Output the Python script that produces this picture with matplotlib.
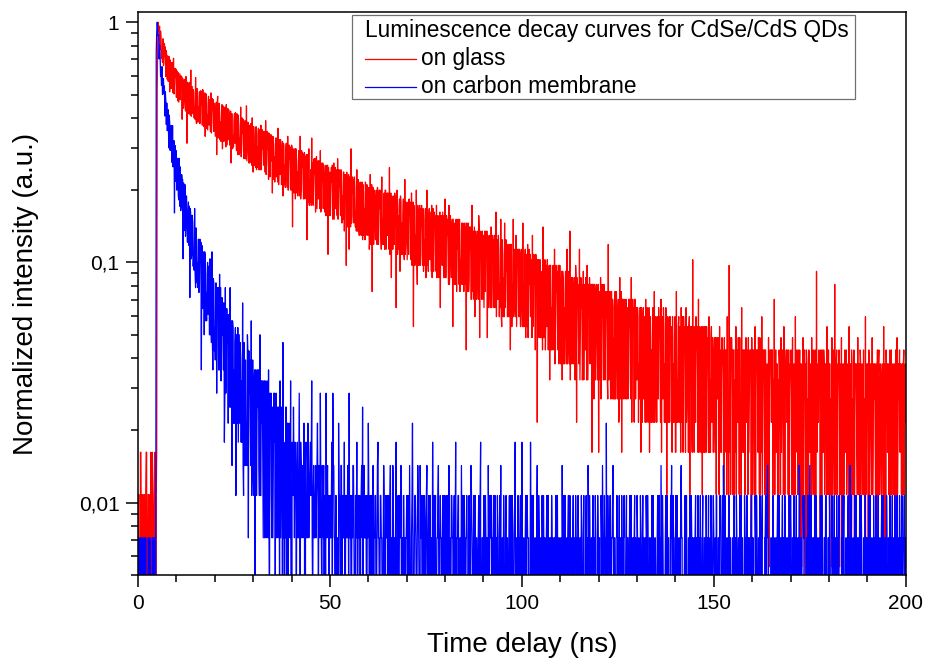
import numpy as np
from matplotlib import pyplot as plt
from matplotlib.patches import Rectangle
from matplotlib.ticker import MultipleLocator, LogLocator, FixedLocator, FixedFormatter, NullFormatter

plt.rcParams['font.family'] = ['Liberation Sans', 'DejaVu Sans']

# photon counts: channels at 0, 0.25, 0.5 ... ns
# and the "half" lists hold the channels in between (0.125, 0.375 ...)
step = 0.25
red_peak = 185
blue_peak = 280

red_0_50 = [1, 2, 0, 3, 1, 2, 1, 0, 2, 3, 1, 2, 0, 1, 2, 3, 1, 2, 1, 2,
            96, 185, 169, 142,
            160, 140, 158, 125, 133, 110, 132, 134, 116, 95, 124, 114, 103, 131, 101, 109,
            90, 109, 114, 98, 88, 102, 73, 105, 94, 87, 110, 58, 95, 77, 91, 117,
            86, 77, 95, 82, 109, 70, 91, 82, 95, 75, 84, 69, 89, 84, 62, 93,
            76, 85, 69, 78, 94, 71, 80, 65, 85, 73, 52, 91, 62, 76, 71, 80,
            55, 76, 72, 64, 84, 66, 60, 76, 70, 48, 77, 62, 72, 58, 66, 77,
            52, 68, 61, 82, 55, 64, 57, 70, 50, 83, 60, 54, 69, 50, 62, 74,
            44, 62, 54, 68, 56, 63, 45, 58, 69, 51, 55, 47, 59, 72, 48, 55,
            41, 60, 56, 49, 36, 61, 51, 57, 42, 54, 67, 46, 43, 55, 50, 35,
            57, 47, 55, 43, 62, 38, 50, 44, 57, 26, 47, 50, 34, 53, 44, 48,
            39, 62, 37, 46, 40, 52, 34, 49, 23, 41, 55, 41, 45, 61, 48, 39,
            43, 30, 51, 40, 34, 44, 54, 35, 40, 31, 43, 38, 47, 41, 20, 38]
red_half_0_50 = [2, 0, 3, 1, 2, 0, 2, 1, 3, 0, 2, 1, 2, 3, 0, 2, 1, 3, 0, 3,
                 150, 176, 178, 170,
                 131, 126, 122, 151, 146, 141, 107, 105, 133, 129, 98, 126, 94, 93, 119, 118,
                 116, 87, 86, 113, 111, 110, 108, 81, 107, 79, 106, 104, 103, 104, 76, 75,
                 100, 97, 74, 73, 72, 98, 71, 74, 70, 96, 92, 97, 68, 94, 93, 67,
                 66, 91, 88, 65, 64, 89, 88, 85, 62, 86, 84, 61, 85, 60, 59, 84,
                 83, 59, 82, 56, 57, 81, 80, 57, 79, 77, 55, 56, 77, 78, 54, 76,
                 76, 52, 53, 51, 74, 73, 50, 72, 50, 49, 71, 48, 48, 70, 47, 46,
                 68, 47, 46, 45, 46, 67, 66, 45, 45, 66, 65, 65, 44, 43, 65, 64,
                 64, 42, 63, 61, 62, 41, 40, 61, 61, 40, 39, 60, 60, 39, 59, 58,
                 39, 38, 58, 38, 37, 57, 56, 37, 56, 55, 36, 55, 55, 36, 35, 54,
                 35, 34, 54, 53, 34, 53, 51, 52, 52, 33, 32, 33, 32, 33, 32, 50,
                 50, 49, 31, 49, 49, 31, 30, 48, 48, 47, 30, 29, 29, 47, 46, 29]

red_50_100 = [44, 36, 40, 28, 48, 37, 31, 42, 50, 32, 38, 29, 40, 35, 44, 25, 41, 18, 32, 42,
              21, 37, 55, 29, 36, 27, 38, 30, 45, 25, 34, 36, 28, 39, 23, 36, 31, 40, 26, 33,
              34, 21, 43, 33, 14, 38, 26, 31, 34, 22, 36, 27, 31, 24, 42, 28, 32, 21, 37, 30,
              24, 33, 46, 35, 16, 30, 33, 22, 26, 12, 37, 29, 31, 17, 33, 27, 29, 20, 41, 23,
              25, 32, 20, 29, 23, 36, 26, 10, 29, 24, 37, 15, 27, 29, 18, 26, 20, 31, 23, 28,
              16, 37, 22, 29, 19, 23, 32, 25, 17, 26, 20, 32, 20, 23, 28, 12, 25, 18, 22, 29,
              34, 16, 24, 20, 32, 19, 23, 26, 10, 20, 27, 25, 14, 21, 17, 28, 19, 25, 15, 22,
              22, 15, 8, 19, 27, 16, 21, 13, 32, 25, 19, 11, 23, 20, 16, 29, 9, 21, 13, 22,
              24, 18, 14, 21, 9, 23, 18, 16, 26, 15, 20, 12, 19, 30, 17, 13, 21, 15, 28, 10,
              20, 16, 27, 13, 17, 11, 20, 18, 8, 22, 15, 28, 12, 16, 24, 14, 18, 11, 20, 15]
red_half_50_100 = [29, 46, 47, 30, 28, 46, 45, 29, 28, 45, 44, 45, 27, 28, 44, 43, 43, 44, 26, 43,
                   42, 26, 27, 42, 41, 42, 26, 25, 25, 41, 24, 40, 24, 40, 39, 24, 23, 24, 39, 24,
                   38, 23, 22, 39, 38, 22, 37, 23, 37, 38, 22, 37, 37, 21, 22, 22, 36, 37, 21, 36,
                   36, 21, 20, 36, 35, 21, 35, 36, 35, 34, 20, 21, 34, 35, 20, 20, 34, 19, 20, 33,
                   19, 33, 34, 33, 19, 18, 33, 32, 18, 19, 19, 32, 18, 32, 31, 32, 18, 17, 18, 31,
                   17, 18, 17, 31, 30, 17, 16, 31, 30, 29, 17, 16, 29, 16, 30, 29, 29, 30, 16, 16,
                   16, 29, 28, 15, 15, 29, 16, 28, 28, 15, 15, 28, 27, 28, 15, 14, 15, 27, 27, 14,
                   27, 26, 27, 14, 14, 26, 26, 13, 14, 13, 26, 25, 13, 25, 13, 26, 25, 24, 25, 13,
                   12, 25, 24, 25, 24, 12, 24, 12, 12, 24, 23, 24, 12, 11, 23, 24, 11, 12, 11, 23,
                   11, 11, 12, 23, 22, 22, 11, 22, 22, 10, 11, 11, 21, 11, 10, 21, 21, 21, 10, 21]

red_100_150 = [13, 27, 15, 19, 9, 16, 22, 12, 15, 11, 17, 24, 11, 15, 8, 18, 4, 16, 9, 19,
               14, 17, 26, 15, 19, 11, 10, 16, 13, 6, 18, 12, 16, 10, 21, 8, 14, 11, 18, 8,
               12, 14, 6, 16, 12, 14, 9, 21, 8, 13, 25, 16, 7, 14, 12, 11, 18, 4, 13, 9,
               21, 10, 12, 6, 17, 11, 8, 13, 18, 8, 12, 7, 13, 3, 15, 5, 14, 11, 9, 14,
               3, 12, 16, 7, 11, 6, 13, 8, 11, 6, 22, 12, 7, 14, 5, 12, 9, 14, 7, 10,
               11, 4, 16, 11, 3, 13, 7, 9, 11, 5, 12, 7, 10, 6, 16, 8, 10, 4, 13, 9,
               6, 11, 7, 12, 3, 9, 11, 5, 7, 13, 6, 9, 10, 3, 11, 8, 9, 4, 14, 6,
               7, 11, 5, 9, 6, 13, 8, 5, 10, 7, 12, 2, 8, 10, 4, 8, 5, 11, 7, 9,
               3, 14, 6, 10, 4, 7, 12, 8, 3, 8, 5, 12, 5, 7, 10, 2, 8, 4, 19, 10,
               9, 4, 8, 6, 13, 5, 7, 9, 2, 6, 10, 9, 3, 7, 4, 11, 6, 9, 4, 7]
red_half_100_150 = [10, 10, 10, 21, 20, 10, 9, 21, 20, 19, 9, 10, 20, 19, 20, 19, 19, 19, 18, 9,
                    9, 8, 9, 9, 8, 18, 19, 8, 18, 18, 8, 8, 18, 8, 7, 18, 17, 8, 7, 18,
                    7, 17, 17, 7, 7, 17, 7, 7, 17, 7, 6, 16, 16, 7, 16, 6, 16, 16, 15, 7,
                    6, 16, 15, 7, 6, 15, 16, 6, 6, 15, 16, 15, 15, 15, 14, 15, 6, 15, 6, 15,
                    14, 6, 5, 15, 14, 15, 6, 14, 14, 5, 6, 14, 5, 14, 13, 5, 5, 5, 14, 5,
                    13, 5, 5, 14, 13, 5, 13, 5, 13, 12, 5, 13, 13, 5, 4, 13, 12, 13, 5, 12,
                    12, 4, 5, 12, 12, 4, 12, 11, 4, 4, 12, 4, 12, 11, 4, 4, 12, 4, 4, 11,
                    4, 11, 12, 11, 4, 3, 11, 12, 4, 4, 11, 11, 4, 11, 11, 10, 3, 4, 4, 11,
                    3, 4, 4, 11, 10, 3, 4, 11, 11, 10, 3, 4, 10, 3, 11, 10, 10, 3, 4, 3,
                    10, 11, 10, 3, 3, 10, 3, 10, 10, 3, 3, 10, 10, 9, 3, 3, 3, 10, 9, 3]

red_150_200 = [7, 4, 9, 6, 5, 8, 10, 6, 3, 7, 6, 9, 8, 5, 11, 4, 18, 9, 5, 7,
               2, 8, 6, 10, 7, 4, 6, 9, 5, 12, 6, 3, 8, 6, 4, 7, 9, 5, 7, 1,
               6, 8, 4, 10, 5, 7, 3, 6, 9, 6, 11, 4, 7, 2, 8, 5, 6, 9, 5, 7,
               4, 8, 6, 13, 5, 3, 7, 6, 8, 4, 9, 5, 6, 10, 2, 7, 4, 6, 8, 5,
               7, 3, 9, 6, 5, 11, 4, 6, 8, 5, 1, 7, 6, 9, 4, 5, 0, 7, 5, 8,
               3, 6, 9, 4, 7, 5, 2, 17, 6, 4, 6, 0, 5, 8, 3, 7, 6, 4, 10, 5,
               2, 7, 5, 9, 4, 6, 15, 3, 8, 5, 6, 1, 5, 9, 4, 7, 6, 3, 8, 5,
               4, 10, 5, 2, 7, 5, 8, 4, 6, 3, 9, 5, 2, 7, 4, 6, 8, 5, 11, 3,
               5, 0, 7, 4, 6, 9, 3, 5, 4, 7, 5, 1, 8, 3, 6, 5, 5, 10, 4, 0,
               6, 3, 7, 5, 2, 8, 5, 4, 7, 0, 6, 9, 4, 5, 3, 7, 6, 2, 8, 5,
               4]
red_half_150_200 = [9, 3, 2, 9, 9, 2, 3, 8, 9, 8, 2, 3, 8, 2, 3, 2, 3, 2, 9, 8,
                    8, 2, 3, 2, 8, 9, 2, 3, 2, 3, 8, 8, 2, 9, 8, 2, 3, 8, 8, 9,
                    2, 8, 2, 1, 8, 8, 9, 2, 2, 3, 2, 8, 8, 8, 2, 7, 2, 1, 8, 8,
                    8, 2, 3, 2, 8, 7, 2, 2, 7, 2, 3, 8, 2, 8, 7, 8, 8, 2, 1, 7,
                    8, 2, 2, 7, 2, 3, 8, 2, 2, 8, 7, 1, 2, 2, 8, 7, 8, 2, 1, 7,
                    7, 2, 2, 8, 2, 8, 2, 3, 7, 8, 7, 8, 1, 7, 8, 2, 7, 2, 2, 8,
                    7, 2, 1, 2, 8, 2, 2, 7, 2, 7, 8, 7, 2, 1, 7, 2, 8, 7, 2, 7,
                    2, 1, 7, 8, 2, 2, 1, 7, 7, 2, 2, 7, 8, 2, 7, 2, 2, 1, 2, 7,
                    7, 8, 2, 7, 2, 2, 7, 7, 2, 1, 8, 7, 2, 7, 2, 7, 2, 1, 7, 8,
                    7, 7, 2, 8, 7, 2, 7, 2, 7, 8, 1, 2, 7, 8, 7, 2, 7, 7, 2, 7]

blue_0_50 = [1, 0, 2, 1, 1, 2, 0, 1, 2, 1, 0, 2, 1, 1, 0, 2, 1, 2, 0,
             210, 280, 245, 197, 206,
             173, 183, 141, 142, 114, 131, 129, 107, 84, 107, 95, 81, 104, 76, 45, 61,
             75, 62, 53, 76, 70, 48, 61, 29, 45, 59, 40, 46, 42, 33, 20, 44,
             30, 41, 31, 47, 22, 34, 28, 35, 23, 28, 10, 30, 27, 14, 30, 21,
             25, 17, 21, 29, 17, 31, 10, 23, 15, 23, 8, 20, 10, 25, 22, 12,
             14, 10, 5, 22, 10, 13, 6, 15, 22, 10, 4, 15, 10, 13, 3, 11,
             15, 8, 6, 11, 9, 19, 3, 8, 11, 6, 14, 2, 8, 6, 16, 4,
             7, 9, 1, 10, 6, 7, 4, 14, 3, 6, 4, 9, 2, 8, 6, 5,
             10, 1, 6, 3, 7, 4, 5, 1, 8, 5, 2, 6, 9, 3, 5, 13,
             5, 4, 7, 0, 6, 4, 3, 9, 0, 4, 7, 2, 4, 1, 5, 2,
             8, 1, 4, 4, 2, 6, 0, 5, 3, 6, 2, 4, 3, 9, 1, 4,
             2, 4, 3, 6, 1, 3, 8, 2, 4, 2, 0, 3, 8, 3, 2, 1]
blue_half_0_50 = [2, 1, 0, 2, 1, 0, 2, 1, 1, 0, 2, 1, 2, 0, 1, 1, 2, 0, 1,
                  255, 262, 248, 225, 167,
                  153, 140, 163, 152, 144, 105, 99, 121, 115, 82, 104, 73, 70, 90, 86, 82,
                  56, 76, 51, 48, 46, 65, 62, 60, 38, 36, 53, 34, 50, 48, 47, 29,
                  44, 27, 26, 25, 39, 23, 22, 21, 35, 34, 33, 18, 31, 31, 16, 16,
                  28, 27, 14, 14, 13, 13, 24, 12, 11, 23, 22, 22, 10, 10, 9, 20,
                  19, 19, 8, 8, 18, 17, 17, 7, 7, 16, 16, 6, 6, 15, 14, 6,
                  5, 14, 13, 5, 5, 4, 13, 4, 4, 4, 12, 12, 11, 4, 3, 11,
                  3, 10, 10, 3, 10, 10, 3, 3, 9, 9, 2, 9, 9, 2, 9, 2,
                  2, 8, 8, 2, 2, 8, 8, 7, 2, 7, 7, 1, 2, 7, 1, 2,
                  1, 2, 7, 6, 1, 6, 2, 1, 5, 3, 4, 5, 3, 4, 2, 4,
                  3, 5, 2, 3, 4, 3, 4, 2, 2, 4, 3, 5, 4, 2, 3, 2,
                  3, 2, 4, 3, 4, 2, 3, 1, 3, 4, 2, 1, 2, 4, 3, 2]

blue_50_100 = [3, 2, 5, 8, 4, 2, 3, 0, 2, 6, 3, 1, 4, 2, 2, 5, 1, 3, 2, 4,
               8, 2, 1, 3, 4, 2, 0, 3, 5, 1, 2, 3, 2, 4, 7, 3, 2, 2, 1, 3,
               6, 1, 3, 2, 0, 4, 2, 3, 1, 2, 5, 2, 1, 3, 2, 0, 4, 1, 3, 2,
               2, 3, 1, 4, 2, 0, 3, 2, 1, 5, 2, 3, 1, 2, 4, 1, 0, 3, 2, 2,
               3, 1, 2, 4, 1, 2, 6, 0, 2, 3, 1, 2, 3, 1, 4, 2, 1, 3, 0, 2,
               2, 4, 1, 3, 2, 0, 2, 5, 1, 2, 3, 1, 2, 4, 0, 3, 2, 1, 2, 3,
               1, 3, 2, 0, 4, 2, 1, 3, 2, 2, 1, 5, 0, 2, 3, 1, 2, 4, 1, 2,
               3, 1, 2, 2, 0, 3, 1, 4, 2, 1, 3, 2, 0, 2, 1, 3, 2, 5, 1, 2,
               2, 0, 3, 1, 2, 4, 1, 2, 3, 0, 2, 1, 3, 2, 1, 2, 0, 3, 4, 1,
               2, 3, 1, 2, 0, 2, 1, 3, 2, 1, 3, 0, 2, 5, 1, 2, 3, 1, 2, 0]
blue_half_50_100 = [2, 3, 1, 4, 2, 1, 3, 2, 0, 3, 2, 4, 1, 3, 2, 1, 3, 2, 4, 1,
                    2, 3, 1, 2, 4, 1, 3, 2, 1, 3, 2, 0, 3, 2, 1, 4, 2, 3, 1, 2,
                    3, 2, 1, 3, 2, 0, 2, 3, 1, 4, 2, 1, 3, 2, 1, 2, 3, 0, 2, 3,
                    1, 2, 3, 1, 2, 4, 1, 2, 3, 0, 2, 1, 3, 2, 1, 2, 3, 1, 0, 2,
                    2, 3, 1, 2, 0, 3, 2, 1, 3, 2, 1, 4, 2, 0, 2, 3, 1, 2, 3, 1,
                    3, 1, 2, 0, 3, 2, 1, 2, 3, 1, 0, 2, 3, 1, 2, 2, 1, 3, 0, 2,
                    2, 1, 3, 2, 1, 0, 3, 2, 1, 3, 2, 1, 2, 3, 0, 2, 1, 2, 3, 1,
                    1, 2, 3, 0, 2, 1, 2, 3, 1, 2, 0, 3, 2, 1, 2, 1, 3, 0, 2, 1,
                    3, 1, 2, 2, 0, 1, 3, 2, 1, 2, 3, 0, 1, 2, 3, 1, 2, 1, 0, 2,
                    1, 2, 0, 3, 2, 1, 2, 1, 3, 0, 2, 1, 3, 1, 2, 0, 1, 2, 3, 1]

blue_100_150 = [5, 1, 2, 0, 3, 1, 2, 2, 1, 5, 0, 2, 3, 1, 2, 1, 4, 0, 2, 1,
                2, 3, 0, 1, 2, 1, 3, 2, 0, 1, 2, 3, 1, 0, 2, 2, 1, 3, 0, 2,
                1, 2, 4, 1, 0, 3, 2, 1, 2, 0, 3, 1, 2, 2, 1, 0, 3, 2, 1, 2,
                0, 2, 3, 1, 2, 1, 0, 3, 2, 4, 1, 2, 0, 1, 3, 2, 1, 2, 0, 3,
                1, 2, 0, 2, 4, 1, 3, 2, 6, 1, 2, 0, 3, 1, 2, 4, 0, 2, 1, 3,
                2, 1, 0, 2, 3, 1, 2, 0, 1, 3, 2, 1, 2, 0, 3, 1, 2, 2, 0, 1,
                3, 1, 2, 0, 2, 1, 3, 2, 1, 0, 2, 3, 1, 2, 0, 1, 2, 3, 1, 2,
                0, 2, 1, 3, 2, 4, 1, 2, 0, 1, 3, 2, 1, 2, 0, 3, 4, 1, 2, 1,
                2, 0, 3, 1, 2, 1, 4, 2, 0, 1, 3, 2, 1, 0, 2, 3, 1, 2, 2, 0,
                1, 3, 2, 0, 1, 2, 3, 1, 2, 0, 2, 1, 3, 2, 1, 0, 2, 3, 1, 2]
blue_half_100_150 = [2, 1, 0, 2, 1, 3, 2, 0, 1, 2, 3, 1, 0, 2, 1, 2, 0, 3, 1, 2,
                     1, 2, 3, 0, 1, 2, 1, 3, 2, 0, 1, 2, 2, 1, 0, 3, 2, 1, 2, 1,
                     2, 0, 1, 3, 2, 1, 0, 2, 3, 1, 2, 0, 1, 3, 2, 1, 2, 0, 3, 1,
                     2, 1, 2, 0, 3, 1, 2, 1, 0, 2, 3, 1, 2, 0, 1, 2, 3, 0, 1, 2,
                     2, 0, 3, 1, 2, 1, 2, 0, 1, 3, 2, 1, 0, 2, 3, 1, 2, 1, 0, 2,
                     1, 3, 2, 0, 1, 2, 3, 1, 2, 0, 1, 2, 3, 1, 0, 2, 1, 3, 2, 0,
                     2, 1, 0, 3, 1, 2, 1, 0, 2, 3, 1, 2, 0, 1, 2, 3, 1, 0, 2, 1,
                     1, 3, 2, 0, 1, 2, 3, 1, 0, 2, 1, 3, 2, 0, 1, 2, 1, 3, 0, 2,
                     3, 1, 0, 2, 1, 3, 2, 0, 1, 2, 1, 3, 0, 2, 1, 2, 3, 1, 0, 2,
                     2, 0, 1, 3, 2, 1, 0, 2, 3, 1, 2, 0, 1, 2, 3, 1, 0, 2, 1, 3]

blue_150_200 = [2, 1, 0, 3, 1, 2, 2, 0, 1, 3, 4, 1, 2, 0, 2, 1, 3, 2, 1, 0,
                2, 3, 1, 0, 2, 1, 2, 3, 0, 1, 2, 1, 3, 2, 0, 1, 2, 2, 1, 3,
                0, 2, 1, 3, 1, 2, 0, 2, 3, 1, 2, 0, 1, 2, 3, 1, 4, 2, 0, 1,
                2, 1, 3, 0, 2, 1, 2, 0, 3, 1, 2, 2, 1, 0, 3, 2, 1, 2, 0, 1,
                3, 1, 2, 0, 1, 2, 3, 1, 2, 4, 0, 2, 1, 3, 2, 1, 0, 2, 3, 1,
                4, 2, 1, 0, 2, 3, 1, 2, 0, 1, 2, 3, 1, 2, 0, 2, 1, 3, 1, 2,
                0, 2, 1, 3, 2, 1, 0, 2, 3, 1, 2, 0, 1, 2, 3, 2, 1, 0, 2, 1,
                3, 2, 4, 1, 0, 2, 1, 3, 2, 0, 1, 2, 3, 1, 2, 0, 2, 1, 3, 2,
                1, 0, 2, 3, 1, 2, 0, 1, 2, 3, 1, 2, 0, 2, 1, 3, 2, 1, 0, 2,
                3, 1, 2, 0, 1, 2, 3, 1, 0, 2, 1, 3, 2, 1, 2, 0, 3, 1, 2, 1,
                2]
blue_half_150_200 = [1, 2, 3, 0, 2, 1, 3, 1, 2, 0, 2, 3, 1, 2, 0, 3, 1, 2, 0, 2,
                     1, 0, 2, 3, 1, 2, 0, 1, 3, 2, 1, 0, 2, 1, 3, 2, 0, 1, 2, 3,
                     2, 1, 0, 2, 3, 1, 2, 0, 1, 2, 3, 1, 0, 2, 1, 3, 2, 0, 1, 2,
                     1, 3, 0, 2, 1, 2, 3, 1, 0, 2, 1, 3, 2, 0, 1, 2, 1, 0, 3, 2,
                     2, 0, 1, 3, 2, 1, 0, 2, 1, 3, 2, 1, 0, 2, 3, 1, 2, 0, 1, 2,
                     1, 3, 2, 1, 0, 2, 3, 1, 2, 0, 1, 2, 3, 0, 1, 2, 3, 1, 0, 2,
                     3, 1, 0, 2, 1, 3, 2, 0, 1, 2, 3, 1, 0, 2, 1, 3, 0, 2, 1, 2,
                     1, 0, 2, 3, 1, 2, 0, 1, 3, 2, 0, 1, 2, 3, 1, 0, 2, 3, 1, 0,
                     2, 3, 1, 0, 2, 1, 3, 2, 0, 1, 2, 3, 1, 0, 2, 1, 3, 2, 0, 1,
                     2, 0, 1, 3, 2, 1, 0, 2, 3, 1, 2, 0, 1, 3, 2, 1, 0, 2, 3, 1]

legend_title = 'Luminescence decay curves for CdSe/CdS QDs'
labels = ['on glass', 'on carbon membrane']
colors = ['#ff0000', '#0000ff']


def merge(main, half, peak):
    t = np.concatenate([np.arange(len(main)) * step, np.arange(len(half)) * step + step / 2])
    y = np.concatenate([main, half]) / peak
    order = np.argsort(t, kind='stable')
    return t[order], y[order]


t_red, red = merge(red_0_50 + red_50_100 + red_100_150 + red_150_200,
                   red_half_0_50 + red_half_50_100 + red_half_100_150 + red_half_150_200, red_peak)
t_blue, blue = merge(blue_0_50 + blue_50_100 + blue_100_150 + blue_150_200,
                     blue_half_0_50 + blue_half_50_100 + blue_half_100_150 + blue_half_150_200, blue_peak)

fig = plt.figure(figsize=(9.25, 6.62), dpi=100)
ax = fig.add_axes([0.1492, 0.1314, 0.830, 0.850])

ax.plot(t_red, red, color=colors[0], lw=0.9)
ax.plot(t_blue, blue, color=colors[1], lw=0.9)

ax.set_yscale('log', nonpositive='clip')
ax.set_xlim(0, 200)
ax.set_ylim(0.005, 1.1)

ax.xaxis.set_major_locator(MultipleLocator(50))
ax.xaxis.set_minor_locator(MultipleLocator(10))
ax.yaxis.set_major_locator(FixedLocator([0.01, 0.1, 1]))
ax.yaxis.set_major_formatter(FixedFormatter(['0,01', '0,1', '1']))
ax.yaxis.set_minor_locator(LogLocator(base=10, subs=np.arange(2, 10)))
ax.yaxis.set_minor_formatter(NullFormatter())

ax.tick_params(which='major', direction='out', length=8.4, width=1.1, labelsize=15, pad=5)
ax.tick_params(which='minor', direction='out', length=4.8, width=1.1)
for s in ax.spines.values():
    s.set_linewidth(1.1)

ax.set_xlabel('Time delay (ns)', fontsize=20)
ax.set_ylabel('Normalized intensity (a.u.)', fontsize=20)
ax.xaxis.set_label_coords(0.5, -0.101)
ax.yaxis.set_label_coords(-0.129, 0.5)

# legend box drawn by hand, axes coordinates
ax.add_patch(Rectangle((0.2784, 0.8468), 0.6552, 0.1491, transform=ax.transAxes,
                       facecolor='white', edgecolor='#707070', lw=0.9, zorder=5))
ax.text(0.2953, 0.9675, legend_title, transform=ax.transAxes, fontsize=16.3,
        va='center', ha='left', zorder=6)
for i, (lab, c) in enumerate(zip(labels, colors)):
    y = 0.9178 - i * 0.0497
    ax.plot([0.2953, 0.3624], [y, y], color=c, lw=0.9, transform=ax.transAxes, zorder=6)
    ax.text(0.3680, y, lab, transform=ax.transAxes, fontsize=16.3, va='center', ha='left', zorder=6)

plt.savefig('out.png', dpi=100)
